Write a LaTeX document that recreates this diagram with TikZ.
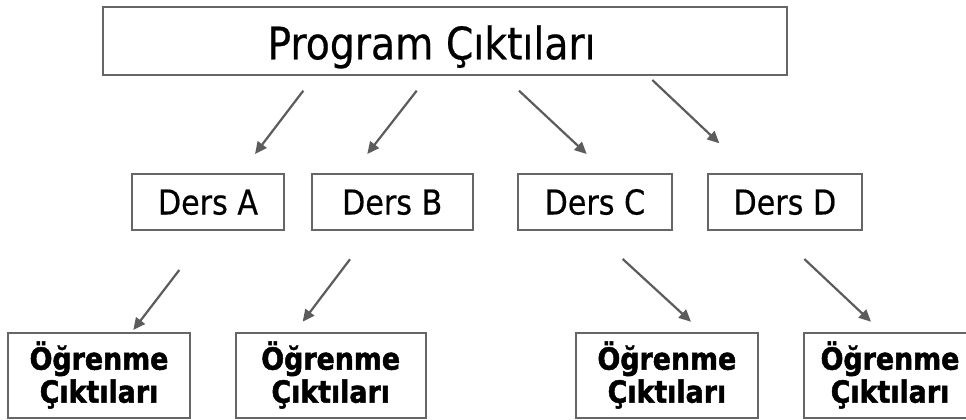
\documentclass[tikz,border=0pt]{standalone}
\usepackage{fontspec}
\setmainfont{DejaVu Sans}[FakeStretch=0.88,FakeBold=0.5,BoldFeatures={FakeBold=1.6}]
\usetikzlibrary{arrows.meta}
\definecolor{edgec}{HTML}{666666}
\definecolor{arrc}{HTML}{5C5C5C}
\begin{document}
\begin{tikzpicture}[x=1pt,y=-1pt,
  box/.style={draw=edgec,line width=2pt,inner sep=0pt,rectangle},
  dersbox/.style={box,minimum height=56pt,font=\fontsize{34.3}{40}\selectfont,text height=25pt,text depth=0pt},
  outbox/.style={box,minimum height=85pt,align=center,font=\fontsize{30.5}{33}\selectfont\bfseries},
  conn/.style={draw=arrc,line width=2.2pt,-{Triangle[length=12pt,width=11pt]}}]
\useasboundingbox (0,0) rectangle (966,420);
\fill[white] (0,0) rectangle (966,420);
\clip (0,0) rectangle (966,420);
% top
\node[box,minimum width=684pt,minimum height=68pt] (prog) at (445,41.3) {};
\node[inner sep=0pt,font=\fontsize{44.7}{50}\selectfont,text height=32.6pt,text depth=0pt] (progtxt) at (431.5,43) {Program Çıktıları};
% middle
\node[dersbox,minimum width=152.3pt] (da) at (208,202) {Ders A};
\node[dersbox,minimum width=161pt] (db) at (392.2,202) {Ders B};
\node[dersbox,minimum width=154.3pt] (dc) at (594.9,202) {Ders C};
\node[dersbox,minimum width=153.7pt] (dd) at (784.9,202) {Ders D};
% bottom
\node[outbox,minimum width=182pt] (oa) at (99,375) {Öğrenme\\Çıktıları};
\node[outbox,minimum width=190pt] (ob) at (330.7,375) {Öğrenme\\Çıktıları};
\node[outbox,minimum width=182.3pt] (oc) at (666.9,375) {Öğrenme\\Çıktıları};
\node[outbox,minimum width=172pt] (od) at (890,375) {Öğrenme\\Çıktıları};
% arrow end points
\coordinate (p1s) at (303.3,90.7); \coordinate (p1e) at (255,154);
\coordinate (p2s) at (416.7,90.7); \coordinate (p2e) at (367.3,154);
\coordinate (p3s) at (519,90.7);   \coordinate (p3e) at (586.7,154);
\coordinate (p4s) at (652.3,80);   \coordinate (p4e) at (719.3,143.3);
\coordinate (q1s) at (179.3,270);  \coordinate (q1e) at (133.3,330);
\coordinate (q2s) at (350,259.3);  \coordinate (q2e) at (302.7,321.7);
\coordinate (q3s) at (622.7,259);  \coordinate (q3e) at (691,321.7);
\coordinate (q4s) at (804.3,259);  \coordinate (q4e) at (871,321.7);
\draw[conn] (p1s) -- (p1e);
\draw[conn] (p2s) -- (p2e);
\draw[conn] (p3s) -- (p3e);
\draw[conn] (p4s) -- (p4e);
\draw[conn] (q1s) -- (q1e);
\draw[conn] (q2s) -- (q2e);
\draw[conn] (q3s) -- (q3e);
\draw[conn] (q4s) -- (q4e);
\end{tikzpicture}
\end{document}
